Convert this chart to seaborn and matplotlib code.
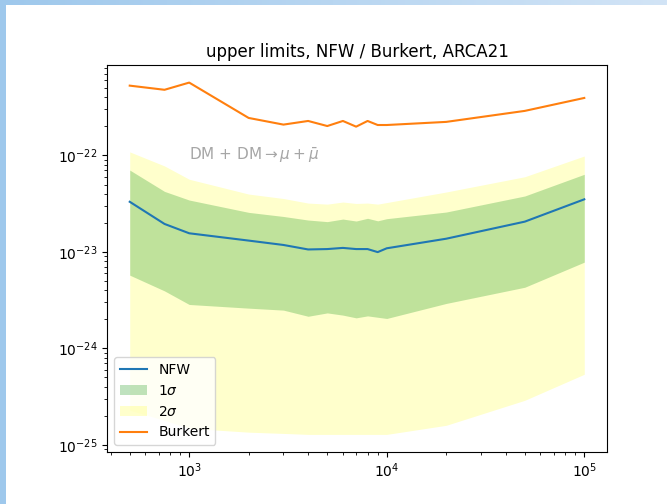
import numpy as np
import pandas as pd
import matplotlib
matplotlib.use("Agg")
import matplotlib.pyplot as plt
import seaborn as sns

# Dark-matter mass points (GeV)
masses = [500, 750, 1000, 2000, 3000, 4000, 5000, 6000, 7000, 8000, 9000,
          10000, 20000, 50000, 100000]

# Median upper limits on <sigma v> (cm^3 s^-1)
nfw_median = [3.31e-23, 1.95e-23, 1.56e-23, 1.31e-23, 1.18e-23, 1.06e-23,
              1.07e-23, 1.10e-23, 1.07e-23, 1.07e-23, 0.995e-23, 1.09e-23,
              1.37e-23, 2.06e-23, 3.51e-23]
burkert_median = [5.3e-22, 4.8e-22, 5.7e-22, 2.45e-22, 2.09e-22, 2.28e-22,
                  2.02e-22, 2.28e-22, 1.99e-22, 2.28e-22, 2.07e-22, 2.07e-22,
                  2.23e-22, 2.9e-22, 3.95e-22]

# NFW sensitivity bands
one_sigma_hi = [7.06e-23, 4.24e-23, 3.45e-23, 2.57e-23, 2.33e-23, 2.14e-23,
                2.06e-23, 2.19e-23, 2.09e-23, 2.23e-23, 2.10e-23, 2.21e-23,
                2.59e-23, 3.8e-23, 6.38e-23]
one_sigma_lo = [5.74e-24, 3.94e-24, 2.85e-24, 2.61e-24, 2.49e-24, 2.15e-24,
                2.33e-24, 2.21e-24, 2.07e-24, 2.17e-24, 2.10e-24, 2.04e-24,
                2.92e-24, 4.3e-24, 7.83e-24]
two_sigma_hi = [1.09e-22, 7.79e-23, 5.67e-23, 3.98e-23, 3.58e-23, 3.21e-23,
                3.13e-23, 3.29e-23, 3.18e-23, 3.21e-23, 3.13e-23, 3.25e-23,
                4.18e-23, 6.02e-23, 9.88e-23]
two_sigma_lo = [2.28e-25, 1.79e-25, 1.48e-25, 1.35e-25, 1.31e-25, 1.28e-25,
                1.28e-25, 1.28e-25, 1.28e-25, 1.28e-25, 1.28e-25, 1.28e-25,
                1.59e-25, 2.89e-25, 5.38e-25]

df = pd.DataFrame({
    "mass": masses,
    "nfw": nfw_median,
    "burkert": burkert_median,
})

W, H, DPI = 667, 504, 100
fig = plt.figure(figsize=(W / DPI, H / DPI), dpi=DPI)
ax = fig.add_axes([107 / W, 1 - 452 / H, 500 / W, 387 / H])

band2 = ax.fill_between(masses, two_sigma_lo, two_sigma_hi, color="yellow",
                        alpha=0.2, linewidth=0, zorder=1, label=r"$2\sigma$")
band1 = ax.fill_between(masses, one_sigma_lo, one_sigma_hi, color="tab:green",
                        alpha=0.3, linewidth=0, zorder=1.5, label=r"$1\sigma$")
sns.lineplot(data=df, x="mass", y="nfw", ax=ax, color="tab:blue",
             linewidth=1.5, label="NFW", zorder=3)
sns.lineplot(data=df, x="mass", y="burkert", ax=ax, color="tab:orange",
             linewidth=1.5, label="Burkert", zorder=3)

ax.set_xscale("log")
ax.set_yscale("log")
ax.set_xlabel("")
ax.set_ylabel("")
ax.set_title("upper limits, NFW / Burkert, ARCA21", fontsize=12)

ax.text(1000, 1.0e-22, r"DM + DM$\rightarrow\mu+\bar{\mu}$", color="gray",
        alpha=0.7, fontsize=11, ha="left", va="center")

handles = [ax.get_lines()[0], band1, band2, ax.get_lines()[1]]
labels = ["NFW", r"$1\sigma$", r"$2\sigma$", "Burkert"]
ax.legend(handles, labels, loc="lower left")

# Light blue window edge along the left and top borders
top = np.zeros((5, W, 3))
grad = np.linspace(0, 1, W)
top[..., 0] = (158 + 52 * grad) / 255
top[..., 1] = (200 + 28 * grad) / 255
top[..., 2] = (236 + 10 * grad) / 255
fig.figimage(top, xo=0, yo=H - 5, origin="upper", zorder=10)
left = np.zeros((H, 6, 3))
left[..., 0] = 158 / 255
left[..., 1] = 200 / 255
left[..., 2] = 236 / 255
fig.figimage(left, xo=0, yo=0, origin="upper", zorder=10)

fig.savefig("out.png", dpi=DPI)
